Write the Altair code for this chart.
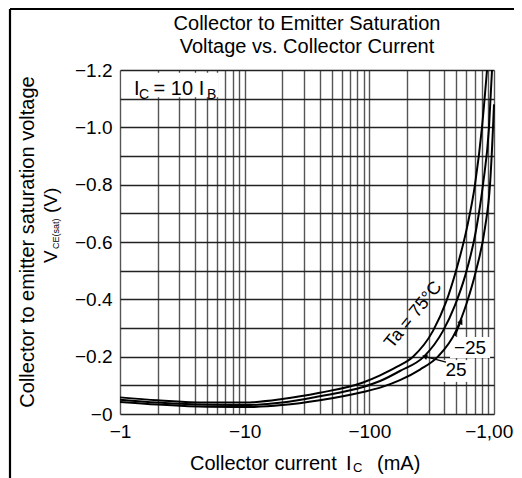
import altair as alt
import pandas as pd

# ---- data (collector current in mA, V_CE(sat) in V; both negative) ----
ic_75 = [-1, -2, -5, -10, -20, -40, -89, -122, -167, -224, -324, -412, -496, -607, -704, -801, -879]
vce_75 = [-0.058, -0.048, -0.040, -0.040, -0.052, -0.074, -0.110, -0.135, -0.165, -0.20, -0.29, -0.39, -0.50, -0.65, -0.80, -1.0, -1.2]
ic_25 = [-1, -2, -5, -10, -20, -40, -89, -122, -176, -274, -390, -487, -585, -717, -816, -912, -964]
vce_25 = [-0.050, -0.040, -0.032, -0.031, -0.040, -0.062, -0.094, -0.115, -0.150, -0.20, -0.29, -0.38, -0.48, -0.64, -0.80, -1.0, -1.2]
ic_m25 = [-1, -2, -5, -10, -20, -40, -89, -122, -176, -255, -355, -496, -607, -717, -847, -929, -982, -1000]
vce_m25 = [-0.042, -0.033, -0.025, -0.024, -0.031, -0.048, -0.077, -0.092, -0.118, -0.155, -0.20, -0.29, -0.39, -0.50, -0.65, -0.80, -1.0, -1.08]

x_grid = [-1, -2, -3, -4, -5, -6, -7, -8, -9, -10, -20, -30, -40, -50, -60, -70, -80, -90,
          -100, -200, -300, -400, -500, -600, -700, -800, -900, -1000]
x_labels = [-1, -10, -100, -1000]
y_grid = [0, -0.1, -0.2, -0.3, -0.4, -0.5, -0.6, -0.7, -0.8, -0.9, -1.0, -1.1, -1.2]

title_lines = ["Collector to Emitter Saturation", "Voltage vs. Collector Current"]

# annotation texts (position in data units)
ann_text = ["Ta = 75°C", "−25", "25"]
ann_ic = [-226, -642, -496]
ann_v = [-0.345, -0.230, -0.153]
ann_angle = [309, 0, 0]
ann_size = [18, 19, 19]

# condition label "I_C = 10 I_B" pieces
cond_text = ["I", "C", "= 10 I", "B"]
cond_ic = [-1.295, -1.42, -1.86, -4.98]
cond_v = [-1.134, -1.112, -1.134, -1.112]
cond_size = [20, 14, 20, 14]

# white label boxes (ic1, ic2, v1, v2)
box_ic1 = [-1.03, -444, -390]
box_ic2 = [-6.2, -929, -630]
box_v1 = [-1.105, -0.195, -0.112]
box_v2 = [-1.19, -0.269, -0.188]

# leader lines to the curves
lead_id = ["m25", "m25", "p25", "p25"]
lead_ic = [-487, -540, -412, -282]
lead_v = [-0.272, -0.320, -0.181, -0.200]
tip_ic = [-540, -282]
tip_v = [-0.320, -0.200]
tip_angle = [30, 288]

FONT = "Liberation Sans"
W, H = 374, 344

curves = pd.concat([
    pd.DataFrame({"ic": ic_75, "v": vce_75, "Ta": "75"}),
    pd.DataFrame({"ic": ic_25, "v": vce_25, "Ta": "25"}),
    pd.DataFrame({"ic": ic_m25, "v": vce_m25, "Ta": "-25"}),
])
curves["ax"] = -curves["ic"]
curves["av"] = -curves["v"]

ann = pd.DataFrame({"t": ann_text, "ax": [-a for a in ann_ic], "av": [-a for a in ann_v],
                    "ang": ann_angle, "fs": ann_size})
cond = pd.DataFrame({"t": cond_text, "ax": [-a for a in cond_ic], "av": [-a for a in cond_v],
                     "fs": cond_size})
boxes = pd.DataFrame({"ax": [-a for a in box_ic1], "ax2": [-a for a in box_ic2],
                      "av": [-a for a in box_v1], "av2": [-a for a in box_v2]})
leads = pd.DataFrame({"id": lead_id, "ax": [-a for a in lead_ic], "av": [-a for a in lead_v]})
tips = pd.DataFrame({"ax": [-a for a in tip_ic], "av": [-a for a in tip_v], "ang": tip_angle})

xs = alt.Scale(type="log", domain=[1, 1000], nice=False)
ys = alt.Scale(domain=[0, 1.2], nice=False)

x_axis = alt.Axis(
    values=[-v for v in x_grid],
    labelExpr="indexof([1,10,100,1000], datum.value) >= 0 ? '\u2212' + format(datum.value, ',') : ''",
    grid=True, gridColor="#555555", gridWidth=1.4, ticks=False, domain=False,
    labelFlush=False, labelOverlap=False, labelPadding=8, labelFontSize=19,
    labelFont=FONT, labelColor="black", title=None)
y_axis = alt.Axis(
    values=[-v for v in y_grid],
    labelExpr="datum.value == 0 ? '\u22120' : (round(datum.value * 10) % 2 == 0 ? '\u2212' + format(datum.value, '.1f') : '')",
    grid=True, gridColor="#222222", gridWidth=1.5, ticks=False, domain=False,
    labelOverlap=False, labelPadding=8, labelFontSize=19, labelFont=FONT,
    labelColor="black", title=None)


def X(f):
    return alt.X(f"{f}:Q", scale=xs, axis=x_axis)


def Y(f):
    return alt.Y(f"{f}:Q", scale=ys, axis=y_axis)


box_layer = alt.Chart(boxes).mark_rect(fill="white", stroke=None).encode(
    x=X("ax"), x2="ax2", y=Y("av"), y2="av2")

curve_layer = alt.Chart(curves).mark_line(color="black", strokeWidth=2, interpolate="monotone").encode(
    x=X("ax"), y=Y("av"), detail="Ta:N")

lead_layer = alt.Chart(leads).mark_line(color="black", strokeWidth=1.3).encode(
    x=X("ax"), y=Y("av"), detail="id:N")

tip_layer = alt.Chart(tips).mark_point(shape="triangle", filled=True, color="black", size=35, opacity=1).encode(
    x=X("ax"), y=Y("av"), angle=alt.Angle("ang:Q", scale=None))

ann_layer = alt.Chart(ann).mark_text(font=FONT, color="black", align="center", baseline="middle").encode(
    x=X("ax"), y=Y("av"), text="t:N", angle=alt.Angle("ang:Q", scale=None), size=alt.Size("fs:Q", scale=None))

cond_layer = alt.Chart(cond).mark_text(font=FONT, color="black", align="left", baseline="middle").encode(
    x=X("ax"), y=Y("av"), text="t:N", size=alt.Size("fs:Q", scale=None))

one = pd.DataFrame({"k": [0]})


def label(text, x, y, size, angle=0, align="left"):
    return alt.Chart(one).mark_text(font=FONT, color="black", fontSize=size, angle=angle,
                                    align=align, baseline="middle").encode(
        x=alt.value(x), y=alt.value(y), text=alt.value(text))


text_layers = [
    label(title_lines[0], W / 2, -46, 20, align="center"),
    label(title_lines[1], W / 2, -23, 20, align="center"),
    label("Collector current", 70, 394, 20),
    label("I", 226, 394, 20),
    label("C", 233, 398, 13),
    label("(mA)", 257, 394, 20),
    label("Collector to emitter saturation voltage", -92, 172, 20, angle=270, align="center"),
    label("V", -69, 193, 19, angle=270),
    label("CE(sat)", -64, 179, 9, angle=270),
    label("(V)", -69, 143, 19, angle=270),
]

frame_left = alt.Chart(one).mark_rule(color="black", strokeWidth=2.2).encode(
    x=alt.value(-110), y=alt.value(-61), y2=alt.value(420))
frame_top = alt.Chart(one).mark_rule(color="black", strokeWidth=2.2).encode(
    x=alt.value(-110), x2=alt.value(420), y=alt.value(-61))

chart = alt.layer(
    box_layer, curve_layer, lead_layer, tip_layer, ann_layer, cond_layer,
    *text_layers, frame_left, frame_top
).properties(
    width=W, height=H,
    autosize=alt.AutoSizeParams(type="none"),
    padding={"left": 112, "top": 62, "right": 20, "bottom": 64},
).configure_view(stroke="black", strokeWidth=2).configure(background="white")

chart.save("out.html", embed_options={"renderer": "svg", "actions": False})
